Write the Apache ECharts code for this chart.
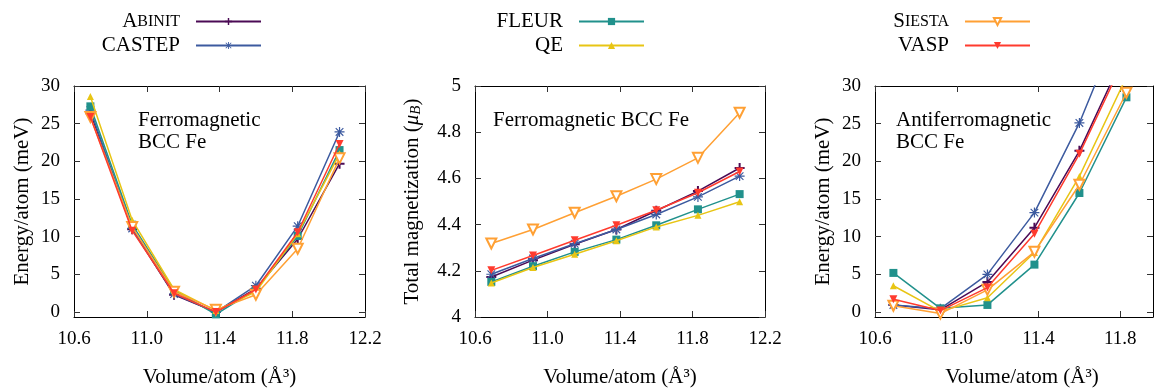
<!DOCTYPE html>
<html><head><meta charset="utf-8">
<script src="https://cdn.jsdelivr.net/npm/echarts@6/dist/echarts.min.js"></script>
<style>html,body{margin:0;padding:0;background:#fff}#c{width:1154px;height:388px}</style>
</head><body><div id="c"></div>
<script>
// ---------- DATA ----------
const volumes    = [10.69, 10.92, 11.15, 11.38, 11.60, 11.83, 12.06];
const volumesAFM = [10.69, 10.92, 11.15, 11.38, 11.60, 11.83];

const fmEnergyAbinit = [26.4, 11.0, 2.3, 0.0, 3.1, 9.7, 19.7];
const fmEnergyCastep = [26.8, 11.1, 2.4, 0.0, 3.5, 11.4, 23.9];
const fmEnergyFleur  = [27.3, 11.6, 2.9, -0.3, 3.0, 10.1, 21.5];
const fmEnergyQE     = [28.6, 12.2, 3.0, 0.2, 2.7, 10.4, 21.0];
const fmEnergySiesta = [25.9, 11.3, 2.7, 0.3, 2.3, 8.4, 20.4];
const fmEnergyVasp   = [25.9, 10.8, 2.5, 0.0, 3.0, 10.6, 22.3];

const magAbinit = [4.173, 4.246, 4.315, 4.379, 4.460, 4.545, 4.645];
const magCastep = [4.185, 4.253, 4.317, 4.379, 4.444, 4.520, 4.610];
const magFleur  = [4.152, 4.220, 4.282, 4.335, 4.397, 4.466, 4.532];
const magQE     = [4.147, 4.214, 4.272, 4.330, 4.390, 4.440, 4.499];
const magSiesta = [4.318, 4.379, 4.451, 4.523, 4.597, 4.689, 4.884];
const magVasp   = [4.202, 4.266, 4.332, 4.397, 4.462, 4.538, 4.630];

const afmEnergyAbinit = [0.95, 0.3, 4.0, 11.2, 21.4, 34.8];
const afmEnergyCastep = [0.95, 0.45, 5.0, 13.2, 25.1, 40.3];
const afmEnergyFleur  = [5.2, 0.5, 0.95, 6.3, 15.8, 28.5];
const afmEnergyQE     = [3.5, 0.1, 1.9, 7.9, 18.0, 31.2];
const afmEnergySiesta = [0.85, -0.2, 2.95, 8.0, 16.9, 29.1];
const afmEnergyVasp   = [1.7, 0.2, 3.25, 10.4, 21.0, 34.2];

const codes = ['Abinit', 'CASTEP', 'FLEUR', 'QE', 'Siesta', 'VASP'];
const volumeTicks = [10.6, 11.0, 11.4, 11.8, 12.2];
const energyTicks = [0, 5, 10, 15, 20, 25, 30];
const magTicks = [4, 4.2, 4.4, 4.6, 4.8, 5];

// ---------- STYLE ----------
const FONT = 'Liberation Serif';
const plusPath = 'path://M4,0H6V4H10V6H6V10H4V6H0V4H4Z';
const starPath = 'path://M0,4.4H10V5.6H0Z M4.4,0H5.6V10H4.4Z M0.8,1.6L1.6,0.8L9.2,8.4L8.4,9.2Z M8.4,0.8L9.2,1.6L1.6,9.2L0.8,8.4Z';
const styles = {
  Abinit: {color: '#4b0a55', symbol: plusPath, size: 10, rotate: 0},
  CASTEP: {color: '#3c5a9f', symbol: starPath, size: 10, rotate: 0},
  FLEUR:  {color: '#21918c', symbol: 'rect', size: 8, rotate: 0},
  QE:     {color: '#e8c514', symbol: 'triangle', size: 7, rotate: 0},
  Siesta: {color: '#ffa034', symbol: 'emptyTriangle', size: 10, rotate: 180},
  VASP:   {color: '#ff3b2e', symbol: 'triangle', size: 8, rotate: 180}
};

const fmE = {Abinit: fmEnergyAbinit, CASTEP: fmEnergyCastep, FLEUR: fmEnergyFleur, QE: fmEnergyQE, Siesta: fmEnergySiesta, VASP: fmEnergyVasp};
const mag = {Abinit: magAbinit, CASTEP: magCastep, FLEUR: magFleur, QE: magQE, Siesta: magSiesta, VASP: magVasp};
const afmE = {Abinit: afmEnergyAbinit, CASTEP: afmEnergyCastep, FLEUR: afmEnergyFleur, QE: afmEnergyQE, Siesta: afmEnergySiesta, VASP: afmEnergyVasp};

const grids = [
  {left: 74, top: 86, width: 291, height: 231, outerBoundsMode: 'none', containLabel: false},
  {left: 475, top: 86, width: 290, height: 231, outerBoundsMode: 'none', containLabel: false},
  {left: 875, top: 86, width: 278, height: 231, outerBoundsMode: 'none', containLabel: false}
];

const tickStyle = {color: '#333', width: 1};
const lineStyleAx = {color: '#000', width: 1};
const labelStyle = {fontFamily: FONT, fontSize: 19, color: '#000'};

const xRanges = [[10.6, 12.2], [10.6, 12.2], [10.6, 11.96]];
const yRanges = [[-0.65, 30], [4, 5], [-0.65, 30]];
const yTicksPer = [energyTicks, magTicks, energyTicks];
const yNames = [
  'Energy/atom (meV)',
  '{n|Total magnetization (}{i|μ}{sub|B}{n|)}',
  'Energy/atom (meV)'
];
const yNameGaps = [41, 51, 41];
const xNamePads = [[0, 0, 0, 0], [0, 0, 0, 0], [0, 0, 0, 16]];

const xAxes = [], yAxes = [];
grids.forEach((g, gi) => {
  xAxes.push({
    gridIndex: gi, type: 'value', position: 'bottom',
    min: xRanges[gi][0], max: xRanges[gi][1],
    axisLine: {onZero: false, lineStyle: lineStyleAx},
    axisTick: {inside: true, length: 6, customValues: volumeTicks, lineStyle: tickStyle},
    axisLabel: Object.assign({customValues: volumeTicks, margin: 13, formatter: v => v.toFixed(1)}, labelStyle),
    splitLine: {show: false},
    name: 'Volume/atom (Å³)', nameLocation: 'middle', nameGap: 50,
    nameTextStyle: {fontFamily: FONT, fontSize: 21, color: '#000', padding: xNamePads[gi]}
  });
  xAxes.push({
    gridIndex: gi, type: 'value', position: 'top',
    min: xRanges[gi][0], max: xRanges[gi][1],
    axisLine: {onZero: false, lineStyle: lineStyleAx},
    axisTick: {inside: true, length: 6, customValues: volumeTicks, lineStyle: tickStyle},
    axisLabel: {show: false}, splitLine: {show: false}
  });
  yAxes.push({
    gridIndex: gi, type: 'value', position: 'left',
    min: yRanges[gi][0], max: yRanges[gi][1],
    axisLine: {onZero: false, lineStyle: lineStyleAx},
    axisTick: {inside: true, length: 6, customValues: yTicksPer[gi], lineStyle: tickStyle},
    axisLabel: Object.assign({customValues: yTicksPer[gi], margin: 14}, labelStyle),
    splitLine: {show: false},
    name: yNames[gi], nameLocation: 'middle', nameGap: yNameGaps[gi],
    nameTextStyle: {fontFamily: FONT, fontSize: 21, color: '#000',
      rich: {
        n: {fontFamily: FONT, fontSize: 21, color: '#000'},
        i: {fontFamily: FONT, fontSize: 21, fontStyle: 'italic', color: '#000'},
        sub: {fontFamily: FONT, fontSize: 15, fontStyle: 'italic', color: '#000', verticalAlign: 'bottom', padding: [8, 0, 0, 0]}
      }}
  });
  yAxes.push({
    gridIndex: gi, type: 'value', position: 'right',
    min: yRanges[gi][0], max: yRanges[gi][1],
    axisLine: {onZero: false, lineStyle: lineStyleAx},
    axisTick: {inside: true, length: 6, customValues: yTicksPer[gi], lineStyle: tickStyle},
    axisLabel: {show: false}, splitLine: {show: false}
  });
});

const series = [];
function addSeries(gi, xs, dataMap) {
  codes.forEach((c, ci) => {
    const s = styles[c];
    series.push({
      type: 'line', name: c, xAxisIndex: gi * 2, yAxisIndex: gi * 2,
      data: dataMap[c].map((y, i) => [xs[i], y]),
      symbol: s.symbol, symbolSize: s.size, symbolRotate: s.rotate,
      lineStyle: {color: s.color, width: 1.5},
      itemStyle: {color: s.color, borderColor: s.color, borderWidth: c === 'Siesta' ? 1.3 : 0},
      z: 2 + ci, clip: true, animation: false
    });
  });
}
addSeries(0, volumes, fmE);
addSeries(1, volumes, mag);
addSeries(2, volumesAFM, afmE);

function legendFmt(name) {
  if (name === 'Abinit') return '{b|A}{s|BINIT}';
  if (name === 'Siesta') return '{b|S}{s|IESTA}';
  return '{b|' + name + '}';
}
const legendBase = {
  orient: 'vertical', align: 'right', top: 11, itemGap: 3, padding: 0,
  itemWidth: 65, itemHeight: 9, formatter: legendFmt,
  lineStyle: {width: 2},
  textStyle: {fontFamily: FONT, fontSize: 21, color: '#000', padding: [0, 11, 0, 0],
    rich: {b: {fontFamily: FONT, fontSize: 21, color: '#000'}, s: {fontFamily: FONT, fontSize: 16, color: '#000'}}},
  selectedMode: false
};
const legends = [
  Object.assign({}, legendBase, {data: ['Abinit', 'CASTEP'], right: 1154 - 262}),
  Object.assign({}, legendBase, {data: ['FLEUR', 'QE'], right: 1154 - 645}),
  Object.assign({}, legendBase, {data: ['Siesta', 'VASP'], right: 1154 - 1031})
];

const annFont = '21px "' + FONT + '"';
const chart = echarts.init(document.getElementById('c'), null, {renderer: 'canvas'});
chart.setOption({
  animation: false,
  backgroundColor: '#fff',
  grid: grids,
  xAxis: xAxes,
  yAxis: yAxes,
  legend: legends,
  series: series,
  graphic: [
    {type: 'text', left: 138, top: 109, style: {text: 'Ferromagnetic\nBCC Fe', font: annFont, fill: '#000', lineHeight: 22}},
    {type: 'text', left: 493, top: 109, style: {text: 'Ferromagnetic BCC Fe', font: annFont, fill: '#000', lineHeight: 22}},
    {type: 'text', left: 896, top: 109, style: {text: 'Antiferromagnetic\nBCC Fe', font: annFont, fill: '#000', lineHeight: 22}}
  ]
});
</script></body></html>
